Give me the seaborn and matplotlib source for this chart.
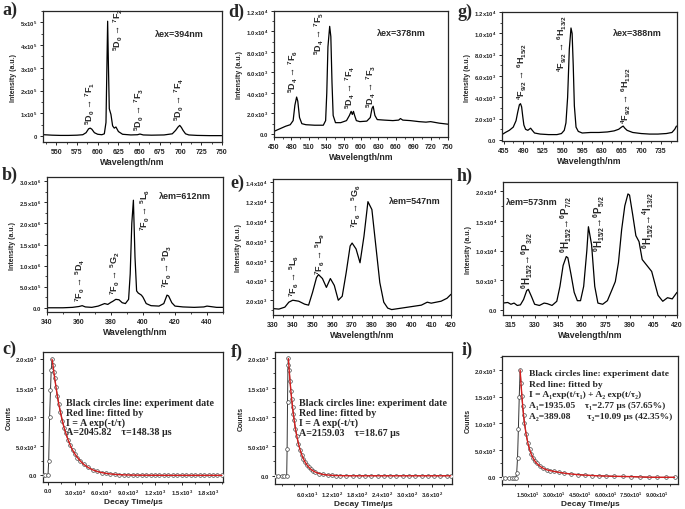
import numpy as np
import matplotlib
matplotlib.use("Agg")
import matplotlib.pyplot as plt
import seaborn as sns
from matplotlib.ticker import FixedLocator, FixedFormatter, AutoMinorLocator

sns.set_style("ticks")
plt.rcParams['font.family'] = ['Liberation Sans', 'DejaVu Sans']
plt.rcParams['font.weight'] = 'bold'
plt.rcParams['mathtext.fontset'] = 'custom'
plt.rcParams['mathtext.rm'] = 'Liberation Sans'
plt.rcParams['mathtext.bf'] = 'Liberation Sans:bold'
plt.rcParams['mathtext.it'] = 'Liberation Sans:italic'
plt.rcParams['mathtext.default'] = 'bf'

# ---- a) Eu emission (x1e5) ----
a_x = [535, 545, 555, 565, 575, 582, 586, 589, 591, 593, 596, 600, 605, 608, 610, 611, 612, 613, 614, 616,
       618, 620, 622, 625, 630, 640, 648, 651, 655, 665, 680, 690, 694, 697, 699, 701, 703, 706, 710, 720, 735, 750]
a_y = [0.06, 0.04, 0.03, 0.03, 0.04, 0.06, 0.15, 0.32, 0.35, 0.30, 0.15, 0.08, 0.06, 0.10, 0.60, 2.80, 5.05, 3.00, 1.20, 0.95,
       0.45, 0.35, 0.40, 0.20, 0.08, 0.05, 0.06, 0.09, 0.05, 0.04, 0.05, 0.10, 0.25, 0.40, 0.47, 0.38, 0.25, 0.10, 0.05, 0.03, 0.02, 0.02]
a_lab = [r"$^5$D$_0$ → $^7$F$_1$", r"$^5$D$_0$ → $^7$F$_2$", r"$^5$D$_0$ → $^7$F$_3$", r"$^5$D$_0$ → $^7$F$_4$"]
a_lab_x = [591, 625, 650, 698]
a_lab_y = [0.55, 3.8, 0.25, 0.7]

# ---- d) Tb emission (x1e3) ----
d_x = [450, 460, 470, 478, 483, 486, 489, 491, 494, 498, 505, 520, 535, 539, 541, 543, 546, 548, 550, 552,
       556, 565, 575, 580, 583, 585, 587, 589, 592, 598, 610, 616, 619, 621, 624, 628, 640, 655, 665, 668,
       672, 685, 700, 712, 720, 735, 750]
d_y = [0.25, 0.5, 0.75, 0.9, 1.3, 2.8, 3.6, 3.2, 1.6, 1.0, 0.9, 0.85, 0.85, 1.3, 4.0, 8.5, 10.5, 9.5, 5.0, 1.8,
       1.1, 1.1, 1.3, 1.8, 2.2, 1.9, 2.2, 1.8, 1.3, 1.2, 1.25, 1.6, 2.5, 2.7, 1.8, 1.4, 1.35, 1.3, 1.35, 1.5,
       1.35, 1.3, 1.2, 1.15, 1.2, 1.05, 0.95]
d_lab = [r"$^5$D$_4$ → $^7$F$_6$", r"$^5$D$_4$ → $^7$F$_5$", r"$^5$D$_4$ → $^7$F$_4$", r"$^5$D$_4$ → $^7$F$_3$"]
d_lab_x = [484, 529, 581, 618]
d_lab_y = [4.1, 7.8, 2.5, 2.6]

# ---- g) Dy emission (x1e3) ----
g_x = [452, 458, 465, 472, 477, 480, 483, 485, 487, 489, 491, 494, 498, 503, 506, 510, 520, 535, 550, 558,
       563, 566, 569, 572, 575, 577, 579, 581, 584, 588, 595, 610, 625, 640, 652, 660, 665, 668, 671, 675,
       685, 700, 715, 730, 745, 755, 760, 763]
g_y = [0.5, 0.7, 0.9, 1.2, 1.8, 2.6, 3.3, 3.4, 3.1, 2.2, 1.4, 1.0, 0.9, 1.1, 0.9, 0.65, 0.55, 0.5, 0.5, 0.6,
       0.9, 1.6, 4.0, 8.5, 10.5, 10.0, 7.0, 3.2, 1.2, 0.8, 0.65, 0.7, 0.7, 0.75, 0.85, 1.0, 1.2, 1.3, 1.1, 0.9,
       0.7, 0.6, 0.55, 0.55, 0.6, 0.7, 1.0, 1.3]
g_lab = [r"$^4$F$_{9/2}$ → $^6$H$_{15/2}$", r"$^4$F$_{9/2}$ → $^6$H$_{13/2}$", r"$^4$F$_{9/2}$ → $^6$H$_{11/2}$"]
g_lab_x = [488, 559, 673]
g_lab_y = [3.8, 6.5, 1.6]

# ---- b) Eu excitation (x1e6) ----
b_x = [340, 350, 356, 360, 362, 364, 368, 372, 374, 376, 378, 380, 381, 383, 385, 387, 389, 391, 392, 393,
       394, 395, 396, 397, 399, 400, 402, 405, 410, 413, 415, 416, 418, 420, 425, 432, 438, 440, 442, 446, 450]
b_y = [0.0, 0.0, 0.01, 0.03, 0.05, 0.02, 0.01, 0.04, 0.07, 0.10, 0.08, 0.13, 0.15, 0.20, 0.19, 0.12, 0.10, 0.20, 0.80, 2.00,
       2.55, 1.20, 0.40, 0.35, 0.30, 0.25, 0.10, 0.05, 0.04, 0.10, 0.30, 0.28, 0.12, 0.04, 0.02, 0.01, 0.02, 0.04, 0.03, 0.01, 0.01]
b_lab = [r"$^7$F$_0$ → $^5$D$_4$", r"$^7$F$_0$ → $^5$G$_2$", r"$^7$F$_0$ → $^5$L$_6$", r"$^7$F$_0$ → $^5$D$_3$"]
b_lab_x = [361, 383, 401.5, 415]
b_lab_y = [0.17, 0.33, 1.85, 0.5]

# ---- e) Tb excitation (x1e3) ----
e_x = [330, 333, 336, 338, 340, 343, 346, 348, 350, 352, 353, 355, 357, 359, 361, 363, 365, 367, 369, 370,
       372, 374, 376, 378, 380, 382, 384, 386, 388, 390, 395, 400, 405, 408, 410, 415, 418, 420]
e_y = [1.15, 1.1, 1.3, 1.8, 2.0, 1.9, 1.6, 1.5, 2.8, 4.3, 4.6, 4.2, 3.3, 4.2, 3.5, 2.0, 2.4, 4.8, 7.5, 7.8,
       7.2, 5.8, 8.5, 12.0, 11.2, 7.5, 3.8, 1.8, 1.2, 1.05, 1.2, 1.35, 1.5, 1.8, 1.7, 1.9, 2.2, 2.6]
e_lab = [r"$^7$F$_6$ → $^5$L$_6$", r"$^7$F$_6$ → $^5$L$_9$", r"$^7$F$_6$ → $^5$G$_6$"]
e_lab_x = [341, 354, 372.4]
e_lab_y = [2.4, 4.65, 9.4]

# ---- h) Dy excitation (x1e3) ----
h_x = [310, 313, 315, 317, 319, 321, 323, 325, 326, 328, 330, 333, 336, 338, 341, 344, 346, 348, 350, 351,
       353, 355, 357, 359, 361, 363, 364, 366, 368, 370, 373, 376, 379, 381, 383, 385, 387, 389, 390, 392,
       394, 396, 398, 401, 404, 406, 408, 411, 414, 417, 420]
h_y = [1.2, 1.3, 1.0, 1.2, 0.8, 0.9, 1.8, 3.3, 3.5, 2.3, 1.0, 0.8, 1.2, 1.1, 0.8, 1.5, 4.0, 7.5, 9.0, 8.8,
       6.0, 3.0, 1.6, 1.6, 4.0, 10.0, 14.0, 11.0, 4.0, 1.2, 1.0, 1.6, 3.5, 4.8, 8.0, 13.5, 17.5, 19.5, 19.3, 16.0,
       12.5, 11.5, 8.5, 7.5, 6.5, 4.5, 2.5, 1.5, 2.1, 1.9, 3.0]
h_lab = [r"$^6$H$_{15/2}$→$^6$P$_{3/2}$", r"$^6$H$_{15/2}$→$^6$P$_{7/2}$",
         r"$^6$H$_{15/2}$→$^6$P$_{5/2}$", r"$^6$H$_{15/2}$→$^4$I$_{13/2}$"]
h_lab_x = [325, 350, 371, 402]
h_lab_y = [3.7, 9.8, 9.9, 10.5]

# ---- decay curves ----
c_t = [-55, -30, 0, 8, 18, 28, 36, 45, 55, 65, 75, 90, 105, 120, 140, 160, 180, 200, 225, 250,
       275, 300, 330, 360, 400] + list(range(450, 2000, 50))
c_y = [0, 0, 0, 250, 1000, 1460, 1800, 1990, 1900, 1780, 1670, 1510, 1360, 1230, 1080, 940, 820, 720, 610, 515,
       435, 370, 305, 250, 190, 135, 95, 68, 48, 34, 24, 17, 12, 8, 6, 4, 3, 2, 2, 1, 1, 1,
       0, 0, 0, 0, 0, 0, 0, 0, 0, 0, 0, 0, 0, 0]
c_peak = 7
f_t = [-15, -8, 0, 6, 12, 13, 14, 15, 16, 18, 20, 22, 24, 26, 28, 30, 33, 36, 40, 44,
       48, 52, 56, 60, 65, 70, 75, 80, 90, 100, 110, 120, 130, 140, 155] + list(range(170, 400, 15)) + [405]
f_y = [0, 0, 0, 0, 0, 450, 1250, 1880, 2000, 1800, 1615, 1450, 1305, 1170, 1050, 945, 800, 685, 550, 445,
       360, 290, 235, 190, 145, 110, 85, 65, 38, 22, 13, 8, 4, 3, 1] + [0] * 17
f_peak = 8
i_t = [0, 2, 4, 6, 7, 8, 8.5, 9, 9.5, 10, 10.5, 11, 11.5, 12, 12.5, 13, 14, 15, 16, 17,
       18, 19, 20, 22, 24, 26, 28, 30, 33, 36, 40, 44, 48, 52, 56, 60, 65, 70, 75, 80, 85, 90, 95, 100]
i_y = [-25, -25, -25, -25, -25, -20, 60, 350, 900, 1500, 2000, 1750, 1520, 1320, 1150, 1010, 790, 630, 510, 420,
       350, 295, 255, 195, 155, 128, 112, 100, 82, 66, 50, 38, 29, 22, 16, 12, 7, 4, 1, -5, -10, -12, -12, -12]
i_peak = 10

c_text = ["Black circles line: experiment date", "Red line: fitted by",
          "I = A exp(-t/τ)", "A=2045.82    τ=148.38 µs"]
f_text = ["Black circles line: experiment date", "Red line: fitted by",
          "I = A exp(-t/τ)", "A=2159.03    τ=18.67 µs"]
i_text = ["Black circles line: experiment date", "Red line: fitted by",
          "I = A₁exp(t/τ₁) + A₂ exp(t/τ₂)",
          "A₁=1935.05    τ₁=2.77 µs (57.65%)",
          "A₂=389.08       τ₂=10.09 µs (42.35%)"]

W, H = 685, 510
fig = plt.figure(figsize=(6.85, 5.10), dpi=100)


def make_axes(box, xlim, ylim, xt, xtl, yt, ytl, xlab, ylab, xls=5, yls=4.2, xlpad=1.5, xlsize=6.3):
    l, t, r, b = box
    ax = fig.add_axes([l / W, 1 - b / H, (r - l) / W, (b - t) / H])
    ax.set_xlim(xlim)
    ax.set_ylim(ylim)
    ax.xaxis.set_major_locator(FixedLocator(xt))
    ax.xaxis.set_major_formatter(FixedFormatter(xtl))
    ax.yaxis.set_major_locator(FixedLocator(yt))
    ax.yaxis.set_major_formatter(FixedFormatter(ytl))
    ax.xaxis.set_minor_locator(AutoMinorLocator(2))
    ax.yaxis.set_minor_locator(AutoMinorLocator(2))
    ax.tick_params(which='major', direction='out', length=2.5, width=0.7, pad=1.5)
    ax.tick_params(which='minor', direction='out', length=1.5, width=0.6)
    ax.tick_params(axis='x', labelsize=xls)
    ax.tick_params(axis='y', labelsize=yls)
    for sp in ax.spines.values():
        sp.set_linewidth(0.9)
        sp.set_visible(True)
    ax.set_xlabel(xlab, fontsize=xlsize, fontweight='bold', labelpad=xlpad)
    ax.set_ylabel(ylab, fontsize=5, fontweight='bold', labelpad=2)
    return ax


def spectrum(ax, xs, ys, scale, labs, lx, ly, lam, lam_xy, lsize=6.5):
    sns.lineplot(x=xs, y=np.array(ys) * scale, ax=ax, color='black', linewidth=0.9,
                 estimator=None, sort=False)
    for s, x, y in zip(labs, lx, ly):
        ax.text(x, y * scale, s, rotation=90, ha='center', va='bottom', fontsize=lsize, fontweight='bold')
    ax.text(lam_xy[0], lam_xy[1] * scale, lam, ha='left', va='center', fontsize=6.5, fontweight='bold')


def decay(ax, ts, ys, peak, lines, tx, ty, dy, fs=7.2):
    sns.lineplot(x=ts, y=ys, ax=ax, color='#333333', linewidth=0.7, estimator=None, sort=False)
    sns.scatterplot(x=ts, y=ys, ax=ax, marker='o', s=7, facecolor='white', edgecolor='#444444',
                    linewidth=0.5, zorder=3)
    sns.lineplot(x=ts[peak:], y=ys[peak:], ax=ax, color='#d41e1e', linewidth=1.0,
                 estimator=None, sort=False, zorder=4)
    for k, s in enumerate(lines):
        ax.text(tx, ty - k * dy, s, transform=ax.transAxes, ha='left', va='center',
                family=['Liberation Serif', 'DejaVu Serif'], fontsize=fs, fontweight='bold')


wl = "Wavelength/nm"
inten = "Intensity (a.u.)"

ax = make_axes((43, 12, 222, 143), (534, 750), (-0.26e5, 5.5e5),
               list(range(550, 751, 25)), [str(v) for v in range(550, 751, 25)],
               [0, 1e5, 2e5, 3e5, 4e5, 5e5],
               ['0', '1x10$^5$', '2x10$^5$', '3x10$^5$', '4x10$^5$', '5x10$^5$'], wl, inten)
spectrum(ax, a_x, a_y, 1e5, a_lab, a_lab_x, a_lab_y, "λex=394nm", (669, 4.5))

y_d = [0, 2e3, 4e3, 6e3, 8e3, 1e4, 1.2e4]
y_dl = ['0.0', '2.0x10$^3$', '4.0x10$^3$', '6.0x10$^3$', '8.0x10$^3$', '1.0x10$^4$', '1.2x10$^4$']
ax = make_axes((274, 12, 448, 138), (450, 750), (-300, 12000),
               list(range(450, 751, 30)), [str(v) for v in range(450, 751, 30)], y_d, y_dl, wl, inten)
spectrum(ax, d_x, d_y, 1e3, d_lab, d_lab_x, d_lab_y, "λex=378nm", (627, 9.86))

ax = make_axes((502, 13, 677, 142), (452, 764), (-100, 12000),
               list(range(455, 736, 35)), [str(v) for v in range(455, 736, 35)], y_d, y_dl, wl, inten)
spectrum(ax, g_x, g_y, 1e3, g_lab, g_lab_x, g_lab_y, "λex=388nm", (649, 10.06))

ax = make_axes((47, 178, 223, 313), (340, 450), (-0.1e6, 3.1e6),
               list(range(340, 441, 20)), [str(v) for v in range(340, 441, 20)],
               [0, 0.5e6, 1e6, 1.5e6, 2e6, 2.5e6, 3e6],
               ['0.0', '5.0x10$^5$', '1.0x10$^6$', '1.5x10$^6$', '2.0x10$^6$', '2.5x10$^6$', '3.0x10$^6$'], wl, inten)
spectrum(ax, b_x, b_y, 1e6, b_lab, b_lab_x, b_lab_y, "λem=612nm", (409.8, 2.65))

ax = make_axes((273, 180, 451, 316), (330, 420), (500, 14300),
               list(range(330, 421, 10)), [str(v) for v in range(330, 421, 10)],
               [2e3, 4e3, 6e3, 8e3, 1e4, 1.2e4, 1.4e4],
               ['2.0x10$^3$', '4.0x10$^3$', '6.0x10$^3$', '8.0x10$^3$', '1.0x10$^4$', '1.2x10$^4$', '1.4x10$^4$'],
               wl, inten)
spectrum(ax, e_x, e_y, 1e3, e_lab, e_lab_x, e_lab_y, "λem=547nm", (388.6, 12.1))

ax = make_axes((503, 183, 677, 316), (310, 420), (-800, 21500),
               list(range(315, 421, 15)), [str(v) for v in range(315, 421, 15)],
               [0, 5e3, 1e4, 1.5e4, 2e4], ['0.0', '5.0x10$^3$', '1.0x10$^4$', '1.5x10$^4$', '2.0x10$^4$'],
               wl, inten)
spectrum(ax, h_x, h_y, 1e3, h_lab, h_lab_x, h_lab_y, "λem=573nm", (312, 18.2), lsize=7)

cnt_t = [0, 500, 1000, 1500, 2000]
cnt_l = ['0.0', '5.0x10$^2$', '1.0x10$^3$', '1.5x10$^3$', '2.0x10$^3$']
dt = "Decay Time/µs"

ax = make_axes((43, 353, 223, 483), (-56, 1962), (-114, 2115),
               [0, 300, 600, 900, 1200, 1500, 1800],
               ['0.0', '3.0x10$^2$', '6.0x10$^2$', '9.0x10$^2$', '1.2x10$^3$', '1.5x10$^3$', '1.8x10$^3$'],
               cnt_t, cnt_l, dt, "Counts", xls=4.2, xlpad=0.8, xlsize=6)
decay(ax, c_t, c_y, c_peak, c_text, 0.13, 0.61, 0.075)

ax = make_axes((275, 353, 452, 485), (-16, 408), (-140, 2110),
               [60, 120, 180, 240, 300, 360],
               ['6.0x10$^1$', '1.2x10$^2$', '1.8x10$^2$', '2.4x10$^2$', '3.0x10$^2$', '3.6x10$^2$'],
               cnt_t, cnt_l, dt, "Counts", xls=4.2, xlpad=0.8, xlsize=6)
decay(ax, f_t, f_y, f_peak, f_text, 0.136, 0.615, 0.075)

ax = make_axes((502, 357, 678, 485), (0, 102), (-137, 2260),
               [15, 30, 45, 60, 75, 90],
               ['1.50x10$^1$', '3.00x10$^1$', '4.50x10$^1$', '6.00x10$^1$', '7.50x10$^1$', '9.00x10$^1$'],
               cnt_t, cnt_l, dt, "Counts", xls=4.0, xlpad=0.5, xlsize=6)
decay(ax, i_t, i_y, i_peak, i_text, 0.155, 0.87, 0.085, fs=6.8)

letters = ['a)', 'b)', 'c)', 'd)', 'e)', 'f)', 'g)', 'h)', 'i)']
letter_pos = [(2, 2), (2, 167), (2, 341), (228, 4), (230, 175), (231, 344), (457, 4), (457, 168), (462, 342)]
for s, (px, py) in zip(letters, letter_pos):
    fig.text(px / W, 1 - py / H, s, family=['Liberation Serif', 'DejaVu Serif'], fontsize=13,
             fontweight='bold', ha='left', va='top')

fig.savefig('out.png', dpi=100)
